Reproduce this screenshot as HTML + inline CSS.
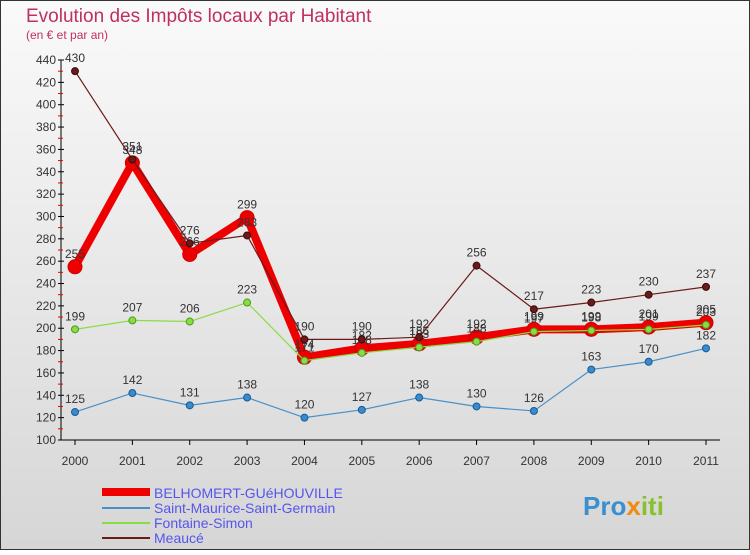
<!DOCTYPE html>
<html><head><meta charset="utf-8"><style>
body{margin:0;width:750px;height:550px;overflow:hidden;font-family:"Liberation Sans",sans-serif}
svg text{font-family:"Liberation Sans",sans-serif}
</style></head><body>
<svg id="c" width="750" height="550" xmlns="http://www.w3.org/2000/svg">
<defs><linearGradient id="bg" x1="0" y1="0" x2="0" y2="1"><stop offset="0" stop-color="#fafafa"/><stop offset="1" stop-color="#d6d6d6"/></linearGradient></defs>
<rect x="0.5" y="0.5" width="749" height="549" fill="url(#bg)" stroke="#333"/>
<text x="26" y="22" font-size="19" fill="#c0305e">Evolution des Impôts locaux par Habitant</text>
<text x="26" y="39" font-size="12" fill="#c0305e">(en € et par an)</text>
<g id="axes"></g><g id="series"></g>
<g>
<line x1="102" y1="492" x2="150" y2="492" stroke="#ee0000" stroke-width="8"/>
<text x="154" y="498" font-size="14" fill="#5555ee">BELHOMERT-GUéHOUVILLE</text>
<line x1="102" y1="508" x2="150" y2="508" stroke="#4a90c8" stroke-width="2"/>
<text x="154" y="513" font-size="14" fill="#5555ee">Saint-Maurice-Saint-Germain</text>
<line x1="102" y1="523" x2="150" y2="523" stroke="#88dd44" stroke-width="2"/>
<text x="154" y="528" font-size="14" fill="#5555ee">Fontaine-Simon</text>
<line x1="102" y1="538" x2="150" y2="538" stroke="#6b1a1a" stroke-width="2"/>
<text x="154" y="543" font-size="14" fill="#5555ee">Meaucé</text>
</g>
<text x="583" y="515" font-size="26" font-weight="bold" fill="#3a8fd0">Pro<tspan fill="#f08a10">x</tspan><tspan fill="#88c030">iti</tspan></text>
</svg>
<script>
const years=["2000","2001","2002","2003","2004","2005","2006","2007","2008","2009","2010","2011"];
const yTicks=[100,120,140,160,180,200,220,240,260,280,300,320,340,360,380,400,420,440];
const belhomert=[255,348,266,299,174,182,186,192,199,199,201,205];
const saintMaurice=[125,142,131,138,120,127,138,130,126,163,170,182];
const fontaine=[199,207,206,223,171,178,183,188,197,198,199,203];
const meauce=[430,351,276,283,190,190,192,256,217,223,230,237];
const NS="http://www.w3.org/2000/svg";
function X(i){return 75+i*(706-75)/11;}
function Y(v){return 440-(v-100)*380/340;}
function mk(t,a,p){const e=document.createElementNS(NS,t);for(const k in a)e.setAttribute(k,a[k]);p.appendChild(e);return e;}
const ax=document.getElementById('axes');
const yl=mk('line',{x1:61,y1:Y(440),x2:61,y2:Y(100),stroke:'#000'},ax);


const xl=mk('line',{x1:61,y1:Y(100),x2:720,y2:Y(100),stroke:'#000'},ax);


yTicks.forEach((v,i)=>{
 mk('line',{x1:58,y1:Y(v),x2:64,y2:Y(v),stroke:'#000'},ax);
 if(i<yTicks.length-1) mk('line',{x1:58,y1:Y(v+10),x2:63,y2:Y(v+10),stroke:'#e00'},ax);
 const t=mk('text',{x:56,y:Y(v)+4,'font-size':12,'text-anchor':'end',fill:'#333'},ax);t.textContent=v;
 
 
});
years.forEach((y,i)=>{
 mk('line',{x1:X(i),y1:Y(100),x2:X(i),y2:Y(100)+5,stroke:'#000'},ax);
 const t=mk('text',{x:X(i),y:465,'font-size':12,'text-anchor':'middle',fill:'#333'},ax);t.textContent=y;
 
 
});
const sg=document.getElementById('series');
function draw(d,name,col,w,r,fill,stroke){
 const g=mk('g',{},sg);
 
 
 const l=mk('polyline',{points:d.map((v,i)=>X(i)+','+Y(v)).join(' '),fill:'none',stroke:col,'stroke-width':w,'stroke-linejoin':'round'},g);
 
 
 d.forEach((v,i)=>{
  const c=mk('circle',{cx:X(i),cy:Y(v),r:r,fill:fill,stroke:stroke,'stroke-width':1},g);
  
  
  const t=mk('text',{x:X(i),y:Y(v)-9,'font-size':12,'text-anchor':'middle',fill:'#333'},g);t.textContent=v;
  
  
 });
}
draw(saintMaurice,'saint-maurice','#4a90c8',1.2,3.5,'#3a8ad0','#1a5a90');
draw(belhomert,'belhomert','#ee0000',8,7,'#ee0000','#cc0000');
draw(fontaine,'fontaine','#88dd44',1.2,3.5,'#88dd44','#4a9a20');
draw(meauce,'meauce','#6b1a1a',1.2,3.5,'#6b1a1a','#3a0a0a');
</script>
</body></html>
